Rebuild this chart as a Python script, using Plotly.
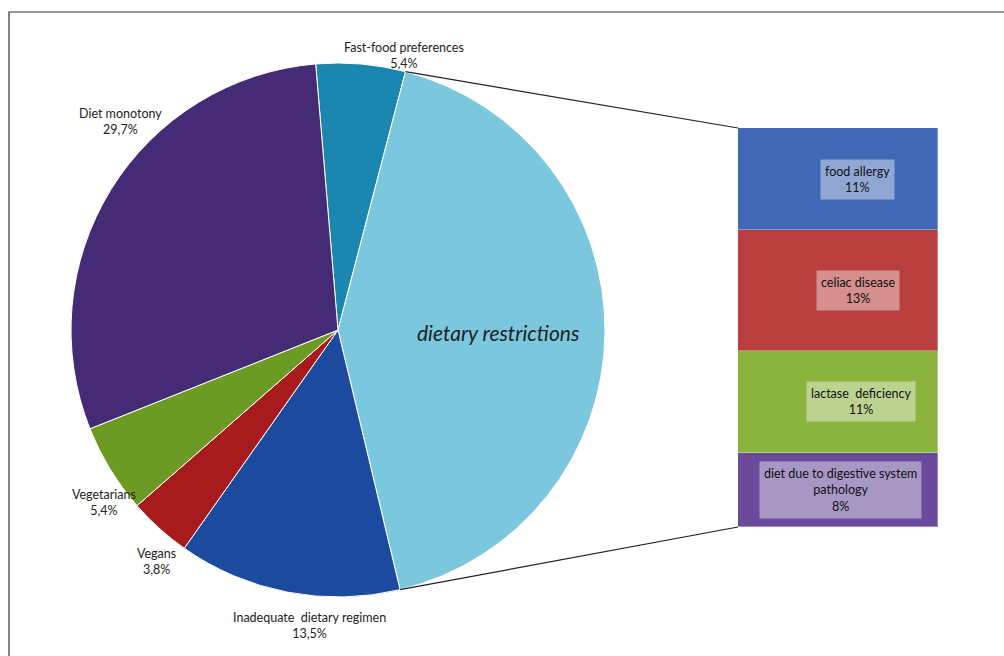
import math
import plotly.graph_objects as go

# ---- data ----
pie_labels = ["Fast-food preferences", "dietary restrictions", "Inadequate  dietary regimen",
              "Vegans", "Vegetarians", "Diet monotony"]
pie_values = [5.4, 42.2, 13.5, 3.8, 5.4, 29.7]
pie_colors = ["#1b86b0", "#7bc8de", "#1c4a9e", "#a71b1d", "#6b9b22", "#452a76"]

bar_labels = ["diet due to digestive system<br>pathology", "lactase  deficiency", "celiac disease", "food allergy"]
bar_values = [8, 11, 13, 11]
bar_colors = ["#6a4a9b", "#8bb43f", "#b93e3e", "#4068b6"]

# ---- geometry (pixels) ----
W, H = 1004, 656
cx, cy, R = 338, 330, 267
rotation = -4.8
bx0, bx1, by_top, by_bot = 738, 938, 128, 527

def px(x):
    return x / W

def py(y):
    return 1 - y / H

fig = go.Figure()

fig.add_trace(go.Pie(
    labels=pie_labels, values=pie_values, sort=False, direction="clockwise",
    rotation=rotation, marker=dict(colors=pie_colors, line=dict(color="white", width=1)),
    textinfo="none", hoverinfo="label+value", showlegend=False,
    domain=dict(x=[px(cx - R), px(cx + R)], y=[py(cy + R), py(cy - R)]),
))

for lab, val, col in zip(bar_labels, bar_values, bar_colors):
    fig.add_trace(go.Bar(
        x=[0], y=[val], width=1, marker=dict(color=col, line=dict(color="rgba(255,255,255,0.35)", width=1)),
        name=lab, showlegend=False, xaxis="x", yaxis="y", hoverinfo="name+y",
    ))

total_bar = sum(bar_values)
fig.update_layout(
    width=W, height=H, margin=dict(l=0, r=0, t=0, b=0),
    paper_bgcolor="white", plot_bgcolor="rgba(0,0,0,0)",
    barmode="stack", bargap=0,
    xaxis=dict(domain=[px(bx0), px(bx1)], range=[-0.5, 0.5], visible=False, fixedrange=True),
    yaxis=dict(domain=[py(by_bot), py(by_top)], range=[0, total_bar], visible=False, fixedrange=True),
    font=dict(family="Lato, Open Sans, sans-serif", color="#222222"),
)

# frame
fig.add_shape(type="rect", xref="paper", yref="paper", x0=px(9), y0=-0.02, x1=1.02, y1=py(12),
              line=dict(color="#333333", width=1.2), layer="below")

# connector lines from the dietary-restrictions slice edges to the bar
start = rotation + pie_values[0] * 3.6
end = start + pie_values[1] * 3.6
for ang, (bxp, byp) in ((start, (bx0, by_top)), (end, (bx0, by_bot))):
    a = math.radians(ang)
    ex, ey = cx + R * math.sin(a), cy - R * math.cos(a)
    fig.add_shape(type="line", xref="paper", yref="paper",
                  x0=px(ex), y0=py(ey), x1=px(bxp), y1=py(byp),
                  line=dict(color="#222222", width=1.2))

# outside pie labels (text centre positions in pixels)
label_pos = {0: (404, 56), 2: (309, 625), 3: (156, 561), 4: (104, 502), 5: (120, 121)}
for i, (lx, ly) in label_pos.items():
    txt = pie_labels[i] + "<br>" + f"{pie_values[i]:.1f}".replace(".", ",") + "%"
    fig.add_annotation(x=px(lx), y=py(ly), xref="paper", yref="paper", text=txt,
                       xanchor="center", yanchor="middle",
                       showarrow=False, font=dict(size=12.5, color="#222222"), align="center")

# label inside the big slice
fig.add_annotation(x=px(498), y=py(332), xref="paper", yref="paper",
                   xanchor="center", yanchor="middle",
                   text="<i>" + pie_labels[1] + "</i>", showarrow=False,
                   font=dict(size=21, color="#222222"))

# bar labels
label_dx = [0.01, 0.115, 0.1, 0.095]
cum = 0
for lab, val, dx in zip(bar_labels, bar_values, label_dx):
    mid = cum + val / 2
    cum += val
    fig.add_annotation(x=dx, y=mid, xref="x", yref="y",
                       xanchor="center", yanchor="middle",
                       text=lab + "<br>" + f"{val}%", showarrow=False,
                       font=dict(size=12.5, color="#111111"), align="center",
                       bgcolor="rgba(255,255,255,0.42)", borderpad=4)

fig.write_html("out.html")
